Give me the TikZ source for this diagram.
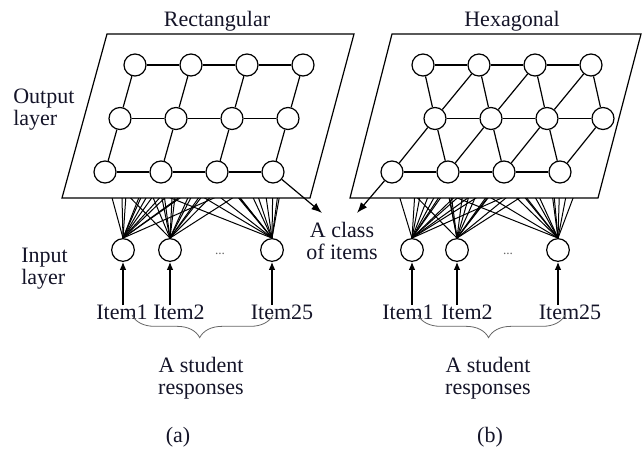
\documentclass[tikz,border=0pt]{standalone}
\usepackage{fontspec}
\setmainfont{Liberation Serif}
\usetikzlibrary{arrows.meta,decorations.pathreplacing}
\definecolor{ink}{RGB}{20,20,40}
\begin{document}
\begin{tikzpicture}[x=0.75pt,y=-0.75pt,
  every node/.style={font=\fontsize{16.5}{16.5}\selectfont, text=ink},
  neuron/.style={circle,draw,fill=white,minimum size=16.5pt,inner sep=0pt,line width=0.9pt},
  inneuron/.style={neuron,minimum size=17pt},
  edge/.style={line width=0.9pt},
  plane/.style={draw,fill=white,line width=0.9pt},
  fanline/.style={line width=0.75pt},
  feed/.style={line width=0.9pt,-{Latex[length=6pt,width=5pt]}},
  pick/.style={line width=0.9pt,-{Latex[length=8pt,width=6pt]}},
  lbl/.style={inner sep=0pt},
  grp/.style={decorate,decoration={brace,mirror,amplitude=17pt,aspect=0.48},draw=black!60,line width=0.6pt}
]
\useasboundingbox (0,0) rectangle (644,452);

% ---------- grid positions of the output units ----------
\foreach \r in {1,2,3}
  \foreach \c in {1,...,4}
    \coordinate (qp-\r-\c) at ({135+56*(\c-1)-15*(\r-1)}, {65+53.5*(\r-1)});
\foreach \r/\xo in {1/423,2/435,3/392}
  \foreach \c in {1,...,4}
    \coordinate (hp-\r-\c) at ({\xo+56*(\c-1)}, {65+53.5*(\r-1)});

% ---------- input units ----------
\node[inneuron] (qi1) at (123,250) {};
\node[inneuron] (qi2) at (170,250) {};
\node[inneuron] (qi3) at (272,250) {};
\node[inneuron] (hi1) at (412,250) {};
\node[inneuron] (hi2) at (457,250) {};
\node[inneuron] (hi3) at (558,250) {};

% ---------- full connections (hidden behind the planes) ----------
\foreach \i in {1,2,3}
  \foreach \r in {1,2,3}
    \foreach \c in {1,...,4} {
      \draw[fanline] (qi\i.north) -- (qp-\r-\c);
      \draw[fanline] (hi\i.north) -- (hp-\r-\c);
    }

% ---------- output planes ----------
\filldraw[plane] (62,198) -- (310,198) -- (354,34) -- (107,34) -- cycle;
\filldraw[plane] (350,198) -- (598,198) -- (641,34) -- (392,34) -- cycle;

% ---------- output units ----------
\foreach \r in {1,2,3}
  \foreach \c in {1,...,4} {
    \node[neuron] (qo-\r-\c) at (qp-\r-\c) {};
    \node[neuron] (ho-\r-\c) at (hp-\r-\c) {};
  }

% rectangular lattice
\foreach \r in {1,2,3}
  \foreach \c/\n in {1/2,2/3,3/4}
    \draw[edge] (qo-\r-\c) -- (qo-\r-\n);
\foreach \r/\s in {1/2,2/3}
  \foreach \c in {1,...,4}
    \draw[edge] (qo-\r-\c) -- (qo-\s-\c);

% hexagonal lattice
\foreach \r in {1,2,3}
  \foreach \c/\n in {1/2,2/3,3/4}
    \draw[edge] (ho-\r-\c) -- (ho-\r-\n);
\foreach \c in {1,...,4} {
  \draw[edge] (ho-1-\c) -- (ho-2-\c);
  \draw[edge] (ho-3-\c) -- (ho-2-\c);
}
\foreach \c/\n in {1/2,2/3,3/4} {
  \draw[edge] (ho-2-\c) -- (ho-1-\n);
  \draw[edge] (ho-2-\c) -- (ho-3-\n);
}

% ---------- class of items ----------
\node[lbl,anchor=north,align=center] (cls) at (342,222) {A class\\of items};
\coordinate (qcls) at (322,213);
\coordinate (hcls) at (357,213);
\draw[pick] (qo-3-4) -- (qcls);
\draw[pick] (ho-3-1) -- (hcls);

% ---------- titles and layer names ----------
\node[lbl,anchor=base] (qtitle) at (217,27) {Rectangular};
\node[lbl,anchor=base] (htitle) at (512,27) {Hexagonal};
\node[lbl,anchor=north west,align=left] (outl) at (13,89) {Output\\layer};
\node[lbl,anchor=north west,align=left] (inl) at (21,248) {Input\\layer};

% ---------- item labels and feeds ----------
\node[lbl,anchor=base] (qt1) at (122,320) {Item1};
\node[lbl,anchor=base] (qt2) at (179,320) {Item2};
\node[lbl,anchor=base] (qt3) at (282,320) {Item25};
\node[lbl,anchor=base] (ht1) at (408,320) {Item1};
\node[lbl,anchor=base] (ht2) at (467,320) {Item2};
\node[lbl,anchor=base] (ht3) at (570,320) {Item25};
\foreach \p in {q,h}
  \foreach \i in {1,2,3}
    \draw[feed] (\p i\i |- \p t\i.north) -- (\p i\i);

\node[lbl,font=\fontsize{10}{10}\selectfont,text=black!60] (qdots) at (220,254) {...};
\node[lbl,font=\fontsize{10}{10}\selectfont,text=black!60] (hdots) at (508,254) {...};

% ---------- braces and group labels ----------
\coordinate (qb1) at (132,315);
\coordinate (qb2) at (273,315);
\coordinate (hb1) at (418,315);
\coordinate (hb2) at (565,315);
\draw[grp] (qb1) -- (qb2);
\draw[grp] (hb1) -- (hb2);
\node[lbl,anchor=north,align=center] (qgrp) at (201,357) {A student\\responses};
\node[lbl,anchor=north,align=center] (hgrp) at (488,357) {A student\\responses};

\node[lbl] (capa) at (178,437) {(a)};
\node[lbl] (capb) at (490,437) {(b)};
\end{tikzpicture}
\end{document}
